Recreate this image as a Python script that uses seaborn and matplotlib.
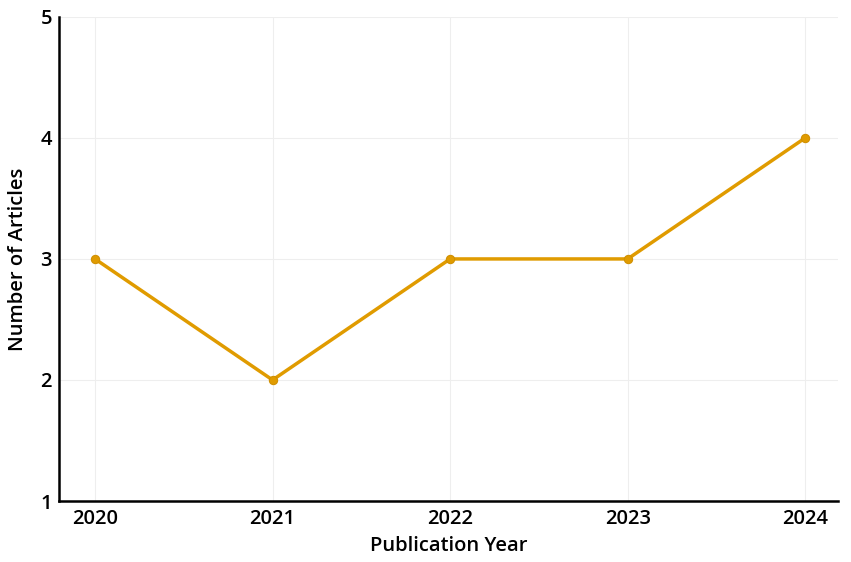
import pandas as pd
import seaborn as sns
import matplotlib.pyplot as plt

years = [2020, 2021, 2022, 2023, 2024]
articles = [3, 2, 3, 3, 4]

df = pd.DataFrame({'Publication Year': years, 'Number of Articles': articles})

sns.set_style('white')
plt.rcParams['font.family'] = ['Open Sans', 'DejaVu Sans']

fig = plt.figure(figsize=(8.51, 5.62), dpi=100)
ax = fig.add_axes([0.0693, 0.1085, 0.9157, 0.8615])

sns.lineplot(data=df, x='Publication Year', y='Number of Articles', ax=ax,
             color='#E09B00', linewidth=2.5, marker='o', markersize=6,
             markeredgecolor='#D08F00')

ax.set_xlim(2019.797, 2024.186)
ax.set_ylim(1, 5)
ax.set_xticks(years)
ax.set_yticks([1, 2, 3, 4, 5])
ax.grid(True, color='#eeeeee', linewidth=0.8)
ax.tick_params(axis='x', direction='in', length=4, width=1.2, labelsize=14.5, colors='black', pad=6)
ax.tick_params(axis='y', direction='in', length=4, width=1.2, labelsize=14.5, colors='black', pad=5)
for lab in ax.get_xticklabels() + ax.get_yticklabels():
    lab.set_fontweight('semibold')
for s in ['top', 'right']:
    ax.spines[s].set_visible(False)
for s in ['left', 'bottom']:
    ax.spines[s].set_color('black')
    ax.spines[s].set_linewidth(1.8)
ax.set_xlabel('Publication Year', fontsize=14.5, fontweight='semibold', color='black', labelpad=5)
ax.set_ylabel('Number of Articles', fontsize=14.5, fontweight='semibold', color='black', labelpad=9)

fig.savefig('out.png', dpi=100)
